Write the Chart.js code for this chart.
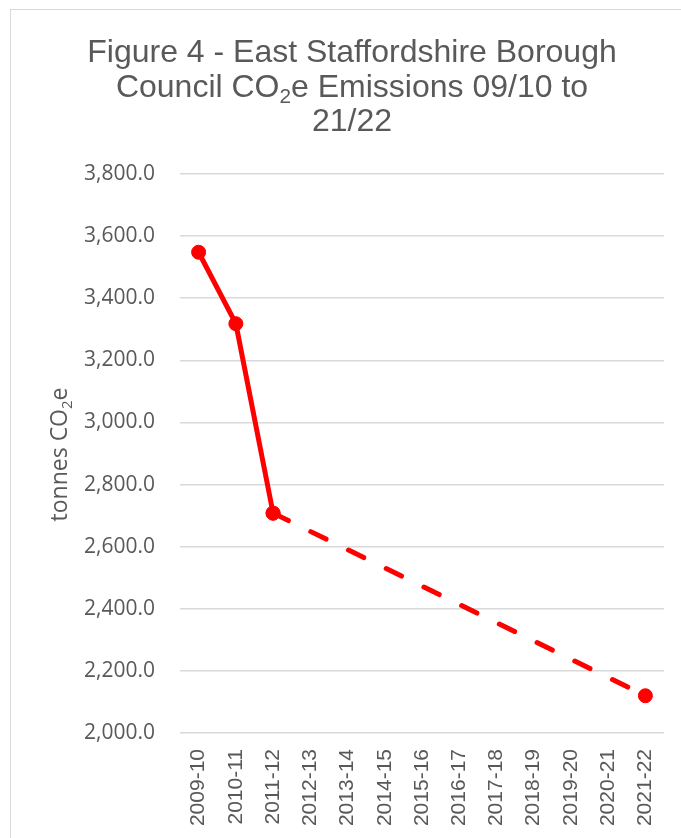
<!DOCTYPE html>
<html>
<head>
<meta charset="utf-8">
<script src="https://cdn.jsdelivr.net/npm/chart.js@4/dist/chart.umd.min.js"></script>
<style>
  html, body { margin: 0; padding: 0; background: #ffffff; }
  #wrap { position: relative; width: 681px; height: 838px; }
  #frame { position: absolute; left: 10px; top: 9px; right: 0; bottom: 0;
           border-left: 1.5px solid #d9d9d9; border-top: 1.5px solid #d9d9d9; }
  canvas { position: absolute; left: 0; top: 0; }
</style>
</head>
<body>
<div id="wrap">
  <div id="frame"></div>
  <canvas id="c" width="681" height="838"></canvas>
</div>
<script>
const categories = ["2009-10","2010-11","2011-12","2012-13","2013-14","2014-15","2015-16","2016-17","2017-18","2018-19","2019-20","2020-21","2021-22"];
const actualEmissions = [3548, 3318, 2708, null, null, null, null, null, null, null, null, null, null];
const projectedEmissions = [null, null, 2708, null, null, null, null, null, null, null, null, null, 2120];
const yMin = 2000;
const yMax = 3800;
const yStep = 200;
const titleLines = [
  [{t: "Figure 4 - East Staffordshire Borough"}],
  [{t: "Council CO"}, {t: "2", sub: true}, {t: "e Emissions 09/10 to"}],
  [{t: "21/22"}]
];
const yTitleParts = [{t: "tonnes CO"}, {t: "2", sub: true}, {t: "e"}];

const textColor = "#595959";

function fmt(v) {
  const s = Math.round(v).toString().replace(/\B(?=(\d{3})+(?!\d))/g, ",");
  return s + ".0";
}

function drawParts(ctx, parts, cx, baseY, size, family) {
  const subSize = size * 0.65;
  let total = 0;
  const widths = parts.map(p => {
    ctx.font = (p.sub ? subSize : size) + "px " + family;
    const w = ctx.measureText(p.t).width;
    total += w;
    return w;
  });
  let x = cx - total / 2;
  ctx.textAlign = "left";
  ctx.textBaseline = "alphabetic";
  parts.forEach((p, i) => {
    ctx.font = (p.sub ? subSize : size) + "px " + family;
    ctx.fillText(p.t, x, baseY + (p.sub ? size * 0.2 : 0));
    x += widths[i];
  });
}

const textPlugin = {
  id: "customText",
  afterDraw(chart) {
    const ctx = chart.ctx;
    ctx.save();
    ctx.fillStyle = textColor;
    const baselines = [62, 97, 131];
    titleLines.forEach((line, i) => {
      drawParts(ctx, line, 352, baselines[i], 32, "'Liberation Sans', Arial, sans-serif");
    });
    const ca = chart.chartArea;
    ctx.translate(67, (ca.top + ca.bottom) / 2 + 1);
    ctx.rotate(-Math.PI / 2);
    drawParts(ctx, yTitleParts, 0, 0, 23, "'Open Sans', sans-serif");
    ctx.restore();
  }
};

new Chart(document.getElementById("c"), {
  type: "line",
  data: {
    labels: categories,
    datasets: [
      {
        label: "Actual",
        data: actualEmissions,
        borderColor: "#ff0000",
        backgroundColor: "#ff0000",
        borderWidth: 5,
        pointRadius: 7,
        pointBorderWidth: 1,
        pointHoverRadius: 7,
        tension: 0,
        spanGaps: false
      },
      {
        label: "Projected",
        data: projectedEmissions,
        borderColor: "#ff0000",
        backgroundColor: "#ff0000",
        borderWidth: 5,
        borderDash: [17, 25],
        borderCapStyle: "round",
        pointRadius: 7,
        pointBorderWidth: 1,
        pointHoverRadius: 7,
        tension: 0,
        spanGaps: true
      }
    ]
  },
  options: {
    responsive: false,
    animation: false,
    layout: { padding: { left: 0, right: 17, top: 174, bottom: 0 } },
    plugins: {
      legend: { display: false },
      title: { display: false },
      tooltip: { enabled: false }
    },
    scales: {
      x: {
        offset: true,
        grid: { display: false, drawTicks: false },
        border: { display: false },
        afterFit(scale) { scale.height = 105; scale.paddingLeft = 0; scale.paddingRight = 0; },
        ticks: {
          minRotation: 90,
          maxRotation: 90,
          padding: 16,
          color: textColor,
          font: { family: "'Liberation Sans', Arial, sans-serif", size: 21 },
          autoSkip: false
        }
      },
      y: {
        min: yMin,
        max: yMax,
        afterFit(scale) { scale.width = 180; scale.paddingTop = 0; scale.paddingBottom = 0; },
        grid: { color: "#d9d9d9", lineWidth: 1.5, drawTicks: false },
        border: { display: false },
        ticks: {
          stepSize: yStep,
          padding: 25,
          color: textColor,
          font: { family: "'Open Sans', sans-serif", size: 21 },
          callback: v => fmt(v)
        }
      }
    }
  },
  plugins: [textPlugin]
});
</script>
</body>
</html>
